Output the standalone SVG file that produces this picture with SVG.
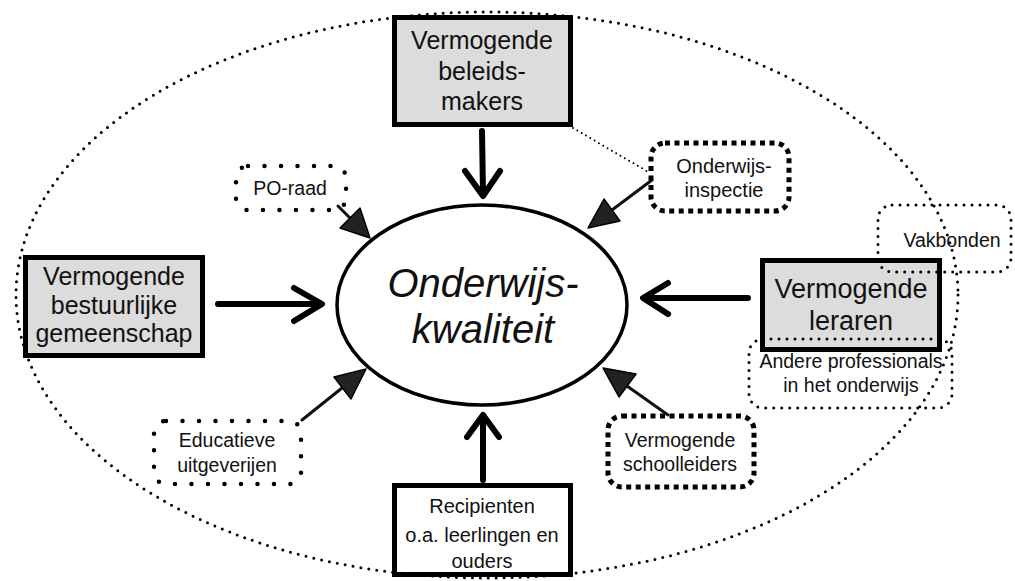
<svg xmlns="http://www.w3.org/2000/svg" width="1015" height="581" viewBox="0 0 1015 581">
<style>
text{font-family:"Liberation Sans",Arial,Helvetica,sans-serif;fill:#111;text-anchor:middle}
.big{font-size:25px}
.sm{font-size:19.5px}
.core{font-size:40px;font-style:italic}
.solid{stroke:#000;stroke-width:5}
.grey{fill:#dcdcdc}
.dotbig{fill:none;stroke:#000;stroke-width:4.5;stroke-linecap:round;stroke-dasharray:0 16.5}
.dotsm{fill:none;stroke:#000;stroke-width:3;stroke-linecap:round;stroke-dasharray:0 8}
.sq{fill:none;stroke:#000;stroke-width:5;stroke-dasharray:5 4.5}
.thick{fill:none;stroke:#000;stroke-width:6;stroke-linecap:round;stroke-linejoin:round}
.thin{stroke:#111;stroke-width:3;stroke-linecap:round}
.head{fill:#222;stroke:#000;stroke-width:1.5;stroke-linejoin:round}
</style>
<rect width="1015" height="581" fill="#fff"/>
<g id="core">
<ellipse cx="482" cy="305" rx="145" ry="100" fill="#fff" stroke="#000" stroke-width="3.5"/>
<text class="core" x="483" y="297">Onderwijs-</text>
<text class="core" x="483" y="343">kwaliteit</text>
</g>
<g id="connectors">
<line x1="573" y1="128" x2="650" y2="173" stroke="#000" stroke-width="2" stroke-linecap="round" stroke-dasharray="0 5"/>
<path class="thick" d="M482 131 L483 194 M465 171 L483 196 L500 171"/>
<path class="thick" d="M218 304 L316 304 M294 288 L322 304 L294 321"/>
<path class="thick" d="M748 298 L648 298 M668 283 L643 298 L668 314"/>
<path class="thick" d="M483 480 L483 419 M467 437 L483 415 L499 437"/>
<line class="thin" x1="338" y1="206" x2="352" y2="220"/>
<polygon class="head" points="370,238 340,228 360,208"/>
<line class="thin" x1="652" y1="180" x2="612" y2="210"/>
<polygon class="head" points="588,228 620,221 604,199"/>
<line class="thin" x1="302" y1="420" x2="342" y2="388"/>
<polygon class="head" points="366,369 351,399 334,377"/>
<line class="thin" x1="668" y1="415" x2="627" y2="386"/>
<polygon class="head" points="603,368 636,374 619,397"/>
</g>
<g id="beleidsmakers">
<rect class="solid grey" x="394.5" y="17.5" width="176" height="107"/>
<text class="big" x="482" y="49">Vermogende</text>
<text class="big" x="482" y="80">beleids-</text>
<text class="big" x="482" y="110">makers</text>
</g>
<g id="bestuurlijke">
<rect class="solid grey" x="25.5" y="257.5" width="177" height="98"/>
<text class="big" x="114" y="285">Vermogende</text>
<text class="big" x="114" y="314">bestuurlijke</text>
<text class="big" x="114" y="342">gemeenschap</text>
</g>
<g id="leraren">
<rect class="solid grey" x="762.5" y="260.5" width="177" height="89"/>
<text x="851" y="298" style="font-size:27px">Vermogende</text>
<text x="851" y="330" style="font-size:27px">leraren</text>
</g>
<g id="recipienten">
<rect class="solid" fill="#fff" x="394.5" y="485.5" width="176" height="89"/>
<text x="482" y="513" style="font-size:20px">Recipienten</text>
<text x="482" y="542" style="font-size:20px">o.a. leerlingen en</text>
<text x="482" y="568" style="font-size:20px">ouders</text>
</g>
<g id="poraad">
<rect class="dotbig" x="236" y="166" width="110" height="44" rx="12"/>
<text class="sm" x="290" y="195">PO-raad</text>
</g>
<g id="inspectie">
<rect class="sq" x="651" y="143" width="138" height="68" rx="14"/>
<text x="724" y="173" style="font-size:20px">Onderwijs-</text>
<text x="724" y="197" style="font-size:20px">inspectie</text>
</g>
<g id="uitgeverijen">
<rect class="dotbig" x="154" y="421" width="147" height="63" rx="12"/>
<text class="sm" x="227" y="447">Educatieve</text>
<text class="sm" x="227" y="472">uitgeverijen</text>
</g>
<g id="schoolleiders">
<rect class="sq" x="608" y="416" width="146" height="71" rx="14"/>
<text class="sm" x="680" y="447">Vermogende</text>
<text class="sm" x="680" y="471">schoolleiders</text>
</g>
<g id="vakbonden">
<rect class="dotsm" x="878" y="205" width="133" height="67" rx="14"/>
<text class="sm" x="952" y="247">Vakbonden</text>
</g>
<g id="andere">
<rect class="dotsm" x="749" y="339" width="203" height="69" rx="14"/>
<text class="sm" x="851" y="368">Andere professionals</text>
<text class="sm" x="851" y="392">in het onderwijs</text>
</g>
<g id="outer">
<ellipse class="dotsm" cx="487" cy="295" rx="471" ry="283"/>
</g>
</svg>
